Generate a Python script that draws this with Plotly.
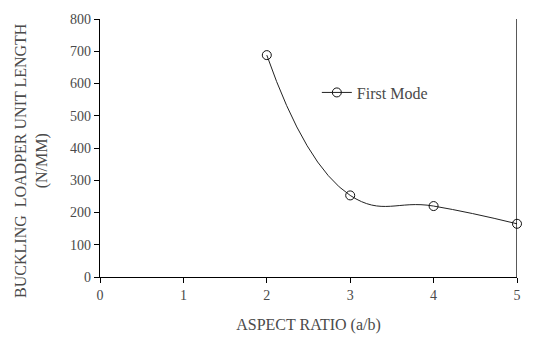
import plotly.graph_objects as go

aspect_ratio = [2, 3, 4, 5]
first_mode = [688, 253, 220, 165]
x_ticks = [0, 1, 2, 3, 4, 5]
y_ticks = [0, 100, 200, 300, 400, 500, 600, 700, 800]

txt = "#4a4a4a"
font = dict(family="Liberation Serif, Times New Roman, serif", size=14, color=txt)

fig = go.Figure()
fig.add_trace(go.Scatter(
    x=aspect_ratio, y=first_mode, name="First Mode",
    mode="lines+markers",
    line=dict(color="#222222", width=1, shape="spline", smoothing=1.3),
    marker=dict(symbol="circle-open", size=9, color="#111111", line=dict(width=1)),
    cliponaxis=False,
))

fig.add_shape(type="line", xref="x", yref="paper", x0=5, x1=5, y0=0, y1=1,
              line=dict(color="black", width=1.3))

fig.add_annotation(
    text="BUCKLING  LOADPER UNIT LENGTH<br>(N/MM)",
    xref="paper", yref="paper", x=-0.163, y=0.45,
    xanchor="center", yanchor="middle", textangle=-90, showarrow=False,
    font=dict(size=16, color=txt),
)

fig.update_layout(
    width=533, height=340,
    margin=dict(l=100, r=16, t=19, b=63, autoexpand=False),
    paper_bgcolor="white", plot_bgcolor="white",
    font=font,
    showlegend=True,
    legend=dict(x=0.52, y=0.715, xanchor="left", yanchor="middle",
                bgcolor="rgba(0,0,0,0)", font=dict(size=16, color=txt),
                itemwidth=30),
    xaxis=dict(
        range=[0, 5], tickvals=x_ticks, ticks="outside", ticklen=5, tickcolor="black",
        showline=True, linecolor="black", linewidth=1.3, showgrid=False, zeroline=False,
        title=dict(text="ASPECT RATIO (a/b)", font=dict(size=16, color=txt), standoff=16),
        tickfont=dict(size=14, color=txt),
    ),
    yaxis=dict(
        range=[0, 800], tickvals=y_ticks, ticks="outside", ticklen=5, tickcolor="black",
        showline=True, linecolor="black", linewidth=1.3, showgrid=False, zeroline=False,
        tickfont=dict(size=14, color=txt),
    ),
)

fig.write_html("out.html", config={"displayModeBar": False},
               post_script="document.body.style.margin='0px';")
